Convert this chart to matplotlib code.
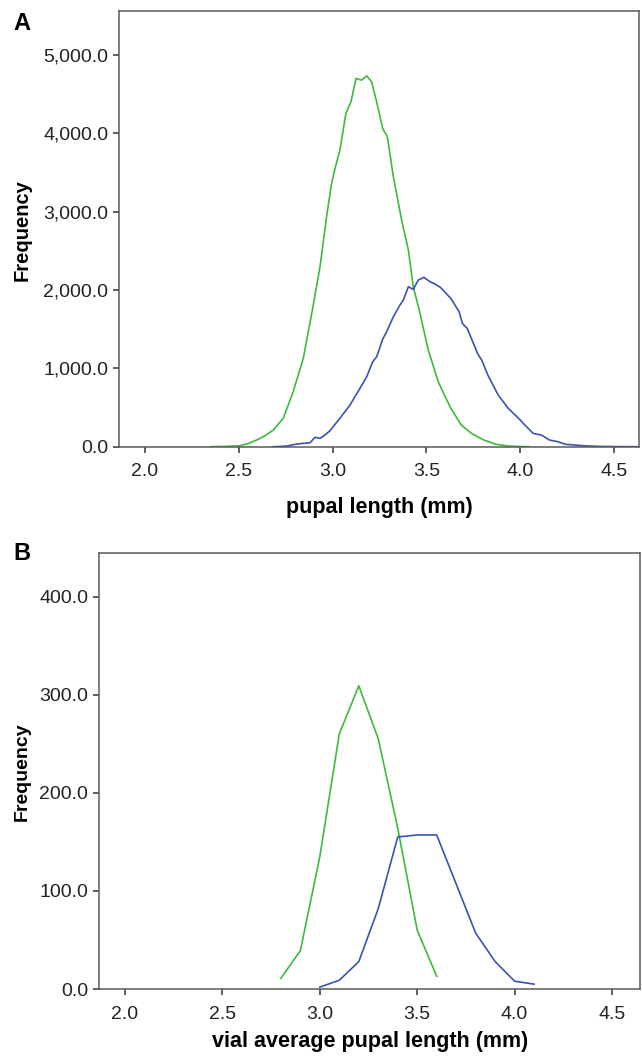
import matplotlib
matplotlib.use("Agg")
import matplotlib.pyplot as plt
from matplotlib.ticker import FuncFormatter

plt.rcParams['font.family'] = ['Liberation Sans', 'DejaVu Sans']

# panel A: individual pupal length (frequency polygons)
a_green_x = [2.35, 2.40, 2.45, 2.506, 2.55, 2.595, 2.64, 2.684, 2.737, 2.79, 2.844, 2.889,
             2.933, 2.968, 2.995, 3.013, 3.039, 3.071, 3.098, 3.125, 3.155, 3.182, 3.208,
             3.235, 3.267, 3.292, 3.324, 3.368, 3.404, 3.430, 3.462, 3.510, 3.563, 3.60,
             3.631, 3.686, 3.74, 3.806, 3.872, 3.937, 4.0, 4.05]
a_green_y = [0, 2, 5, 12, 40, 85, 140, 213, 362, 702, 1127, 1701,
             2296, 2934, 3360, 3551, 3784, 4252, 4400, 4699, 4677, 4732, 4656,
             4400, 4061, 3954, 3444, 2892, 2509, 2041, 1744, 1233, 829, 640,
             488, 276, 170, 85, 30, 8, 2, 0]

a_blue_x = [2.684, 2.72, 2.755, 2.80, 2.844, 2.88, 2.906, 2.933, 2.96, 2.986, 3.039, 3.093,
            3.146, 3.182, 3.214, 3.235, 3.267, 3.288, 3.324, 3.359, 3.377, 3.404, 3.430,
            3.457, 3.487, 3.519, 3.543, 3.576, 3.631, 3.675, 3.692, 3.718, 3.773, 3.795,
            3.828, 3.883, 3.937, 3.992, 4.025, 4.069, 4.113, 4.156, 4.20, 4.244, 4.331,
            4.40, 4.50, 4.64]
a_blue_y = [0, 3, 8, 30, 43, 50, 119, 107, 150, 204, 362, 532,
            745, 893, 1084, 1148, 1370, 1467, 1658, 1807, 1871, 2041, 2008,
            2126, 2161, 2105, 2080, 2030, 1890, 1720, 1572, 1508, 1189, 1104,
            913, 658, 488, 361, 276, 170, 149, 85, 64, 30, 13,
            5, 1, 0]

# panel B: vial average pupal length
b_green_x = [2.8, 2.9, 3.0, 3.1, 3.2, 3.3, 3.4, 3.5, 3.6]
b_green_y = [11, 39, 135, 260, 309, 255, 164, 60, 13]
b_blue_x = [3.0, 3.1, 3.2, 3.3, 3.4, 3.5, 3.6, 3.7, 3.8, 3.9, 4.0, 4.1]
b_blue_y = [2, 9, 28, 82, 155, 157, 157, 107, 57, 28, 8, 5]

x_ticks = [2.0, 2.5, 3.0, 3.5, 4.0, 4.5]
a_yticks = [0, 1000, 2000, 3000, 4000, 5000]
b_yticks = [0, 100, 200, 300, 400]

green = '#3db93d'
blue = '#3d51b3'
spine_col = '#5a5a5a'

fig = plt.figure(figsize=(6.42, 10.56), dpi=100)
axA = fig.add_axes([0.1858, 0.577, 0.81, 0.4124])
axB = fig.add_axes([0.1547, 0.0634, 0.8423, 0.4126])


def style(ax, yticks, ymax):
    ax.set_xlim(1.863, 4.635)
    ax.set_ylim(0, ymax)
    ax.set_xticks(x_ticks)
    ax.set_xticklabels(['%.1f' % t for t in x_ticks])
    ax.set_yticks(yticks)
    ax.yaxis.set_major_formatter(FuncFormatter(lambda v, p: '{:,.1f}'.format(v)))
    for s in ax.spines.values():
        s.set_color(spine_col)
        s.set_linewidth(1.1)
    ax.tick_params(axis='both', direction='out', length=4, width=1.1, color='#333333',
                   labelsize=14, labelcolor='#222222')
    ax.tick_params(axis='x', pad=8)
    ax.tick_params(axis='y', pad=4)


axA.plot(a_green_x, a_green_y, color=green, lw=1.2)
axA.plot(a_blue_x, a_blue_y, color=blue, lw=1.2)
style(axA, a_yticks, 5557)
axA.set_xlabel('pupal length (mm)', fontsize=15.5, fontweight='bold', labelpad=12)

axB.plot(b_green_x, b_green_y, color=green, lw=1.2)
axB.plot(b_blue_x, b_blue_y, color=blue, lw=1.2)
style(axB, b_yticks, 444)
axB.set_xlim(1.868, 4.644)
axB.set_xlabel('vial average pupal length (mm)', fontsize=15.5, fontweight='bold', labelpad=6)

fig.text(22 / 642, 1 - 230 / 1056, 'Frequency', rotation=90, ha='center', va='center',
         fontsize=14.5, fontweight='bold')
fig.text(22 / 642, 1 - 772 / 1056, 'Frequency', rotation=90, ha='center', va='center',
         fontsize=14, fontweight='bold')
fig.text(22 / 642, 1 - 23 / 1056, 'A', ha='center', va='center', fontsize=17, fontweight='bold')
fig.text(22 / 642, 1 - 553 / 1056, 'B', ha='center', va='center', fontsize=17, fontweight='bold')

fig.savefig('out.png', dpi=100)
